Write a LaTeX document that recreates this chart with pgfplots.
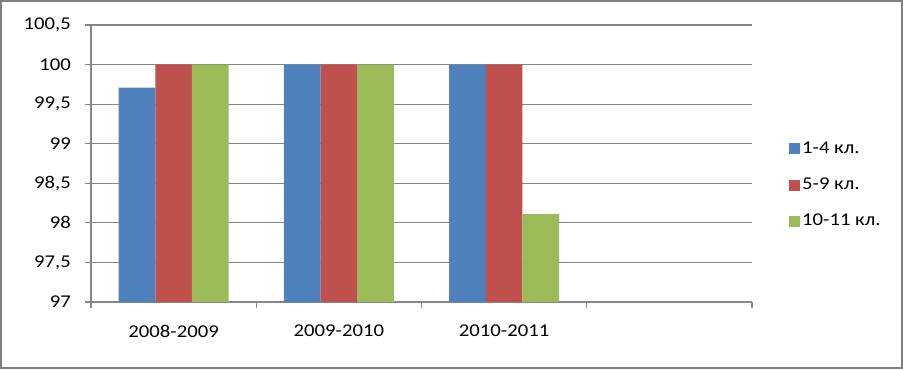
\documentclass[border=0pt]{standalone}
\usepackage{pgfplots}
\pgfplotsset{compat=1.18}
\usepackage{fontspec}
\setmainfont{Carlito}[FakeStretch=1.15]
\definecolor{cblue}{HTML}{4F81BD}
\definecolor{cred}{HTML}{C0504D}
\definecolor{cgreen}{HTML}{9BBB59}
\definecolor{cgrid}{HTML}{868686}
\definecolor{cframe}{HTML}{7F7F7F}
\begin{document}
\fontsize{18bp}{21bp}\selectfont
\begin{tikzpicture}[x=1bp,y=1bp]
\fill[white] (0,0) rectangle (903,369);
\draw[cframe, line width=2bp] (1,1) rectangle (902,368);
\begin{axis}[
  at={(91bp,67bp)}, anchor=south west,
  width=661bp, height=277bp, scale only axis,
  xmin=-0.5, xmax=3.5, ymin=97, ymax=100.5,
  ybar=0pt, bar width=36.7bp,
  axis x line*=bottom, axis y line*=left,
  axis line style={cgrid, line width=1.2bp},
  ymajorgrids, grid style={cgrid, line width=1.2bp},
  ytick={97,97.5,98,98.5,99,99.5,100,100.5},
  yticklabels={97,{97,5},98,{98,5},99,{99,5},100,{100,5}},
  xtick={0,1,2},
  xticklabels={2008-2009,2009-2010,2010-2011},
  minor xtick={-0.5,0.5,1.5,2.5,3.5},
  major x tick style={draw=none},
  tick align=outside,
  major tick length=6bp, minor tick length=6bp,
  tick style={cgrid, line width=1.2bp},
  ticklabel style={font=\fontsize{18bp}{21bp}\selectfont, text=black},
  yticklabel style={anchor=east, xshift=-8bp},
  xticklabel style={anchor=center, yshift=-23bp},
  legend style={draw=none, fill=none, at={(1.056,0.422)}, anchor=west,
    font=\fontsize{18bp}{21bp}\selectfont, row sep=18bp, inner sep=0pt},
  legend cell align=left,
  legend image code/.code={\fill[#1] (0bp,-5.5bp) rectangle (11bp,5.5bp);},
]
\addplot[fill=cblue, draw=none] coordinates {(0,99.71) (1,100) (2,100)};
\addplot[fill=cred, draw=none] coordinates {(0,100) (1,100) (2,100)};
\addplot[fill=cgreen, draw=none] coordinates {(0,100) (1,100) (2,98.11)};
\legend{1-4 кл.,5-9 кл.,10-11 кл.}
\end{axis}
\end{tikzpicture}
\end{document}
